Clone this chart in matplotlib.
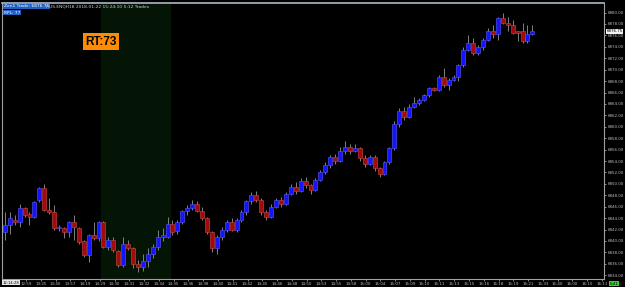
import numpy as np
import matplotlib
matplotlib.use("Agg")
import matplotlib.pyplot as plt

plt.rcParams['font.family'] = ['Liberation Sans Narrow', 'DejaVu Sans']

# candle data (range bars, index = bar number)
opens = [6841.5, 6842.75, 6843.75, 6843.25, 6845.75, 6844.75, 6844.25, 6847.25, 6849.25, 6845.5,
         6845.0, 6842.25, 6842.25, 6841.5, 6843.25, 6842.25, 6840.0, 6837.5, 6841.0, 6840.5,
         6843.25, 6839.0, 6840.25, 6838.25, 6835.75, 6839.5, 6838.75, 6836.0, 6835.5, 6836.5,
         6837.75, 6839.0, 6840.75, 6840.75, 6843.0, 6841.75, 6843.25, 6845.25, 6845.75, 6846.5,
         6845.25, 6844.0, 6841.5, 6838.75, 6840.75, 6842.0, 6843.25, 6842.0, 6843.75, 6845.0,
         6847.0, 6848.0, 6847.25, 6845.0, 6844.25, 6846.0, 6847.25, 6846.5, 6848.25, 6849.5,
         6848.75, 6850.5, 6849.75, 6849.0, 6850.75, 6852.0, 6853.25, 6854.75, 6854.0, 6855.75,
         6856.5, 6855.75, 6856.25, 6854.5, 6853.5, 6854.75, 6852.75, 6851.75, 6853.75, 6856.25,
         6860.5, 6862.75, 6861.75, 6863.5, 6864.25, 6864.75, 6865.5, 6866.75, 6866.5, 6868.75,
         6867.25, 6868.25, 6868.75, 6870.75, 6873.5, 6874.75, 6873.0, 6874.0, 6875.25, 6876.75,
         6876.25, 6879.0, 6878.25, 6877.75, 6876.75, 6876.75, 6875.0, 6876.25]
closes = [6842.75, 6844.0, 6843.25, 6845.75, 6844.5, 6844.25, 6846.75, 6849.25, 6845.5, 6845.0,
          6842.25, 6842.25, 6841.5, 6843.25, 6842.5, 6839.75, 6837.5, 6841.0, 6840.5, 6843.25,
          6839.0, 6840.25, 6838.5, 6835.75, 6839.5, 6838.75, 6836.0, 6835.5, 6836.5, 6837.75,
          6839.0, 6840.75, 6841.0, 6843.0, 6841.5, 6843.25, 6845.25, 6845.75, 6846.5, 6845.25,
          6844.0, 6841.5, 6838.75, 6840.75, 6842.0, 6843.25, 6842.0, 6843.75, 6845.0, 6847.0,
          6848.0, 6847.25, 6845.0, 6844.25, 6846.0, 6847.25, 6846.5, 6848.25, 6849.5, 6848.75,
          6850.5, 6849.75, 6849.0, 6850.75, 6852.0, 6853.25, 6854.75, 6854.0, 6855.75, 6856.5,
          6855.75, 6856.25, 6854.5, 6853.5, 6854.75, 6852.75, 6851.75, 6853.75, 6856.25, 6860.5,
          6862.75, 6861.75, 6863.5, 6864.25, 6864.75, 6865.5, 6866.75, 6866.5, 6868.75, 6867.25,
          6868.25, 6868.75, 6870.75, 6873.5, 6874.75, 6873.0, 6874.0, 6875.25, 6876.75, 6876.25,
          6879.0, 6878.25, 6877.75, 6876.5, 6876.5, 6875.0, 6876.25, 6876.75]
highs = [6845.0, 6845.0, 6844.5, 6846.5, 6846.0, 6845.0, 6847.0, 6849.5, 6850.0, 6847.5,
         6846.25, 6842.75, 6842.5, 6843.5, 6844.5, 6842.5, 6840.25, 6841.25, 6843.25, 6843.5,
         6843.5, 6840.75, 6840.75, 6838.5, 6840.75, 6840.25, 6839.0, 6836.75, 6837.75, 6838.75,
         6839.5, 6842.0, 6842.25, 6844.25, 6843.75, 6843.75, 6845.5, 6846.25, 6847.25, 6847.0,
         6846.0, 6844.25, 6841.75, 6841.0, 6842.5, 6843.75, 6844.0, 6844.0, 6845.5, 6847.25,
         6848.5, 6848.75, 6847.5, 6845.5, 6846.5, 6847.5, 6847.75, 6848.5, 6850.0, 6850.25,
         6851.0, 6851.25, 6850.0, 6851.0, 6852.5, 6853.75, 6855.0, 6855.25, 6856.5, 6857.5,
         6857.0, 6857.0, 6856.5, 6855.0, 6855.0, 6855.0, 6853.0, 6854.0, 6856.5, 6861.0,
         6863.25, 6863.5, 6864.0, 6865.25, 6865.0, 6865.75, 6867.0, 6867.0, 6869.0, 6870.25,
         6868.5, 6869.0, 6871.0, 6874.0, 6876.0, 6875.5, 6874.25, 6875.5, 6877.25, 6877.75,
         6879.25, 6880.0, 6879.25, 6878.75, 6876.75, 6878.25, 6877.75, 6877.75]
lows = [6840.25, 6841.25, 6842.75, 6842.5, 6844.25, 6842.75, 6844.0, 6846.75, 6845.25, 6844.75,
        6842.0, 6841.75, 6840.5, 6840.75, 6840.25, 6839.5, 6837.25, 6836.25, 6840.25, 6840.0,
        6838.75, 6838.5, 6838.0, 6835.5, 6835.5, 6838.5, 6835.25, 6834.5, 6834.75, 6835.5,
        6837.0, 6838.5, 6840.0, 6840.5, 6841.0, 6841.25, 6843.0, 6844.5, 6845.5, 6845.0,
        6843.75, 6841.25, 6838.0, 6837.75, 6840.25, 6841.5, 6841.75, 6841.5, 6843.25, 6844.5,
        6846.5, 6846.75, 6844.5, 6843.75, 6844.0, 6845.75, 6846.0, 6846.25, 6848.0, 6848.25,
        6848.5, 6849.25, 6848.25, 6848.75, 6850.5, 6851.75, 6852.75, 6853.5, 6853.75, 6855.25,
        6855.25, 6855.5, 6854.0, 6853.0, 6853.25, 6852.25, 6851.25, 6851.5, 6853.5, 6856.0,
        6860.0, 6861.25, 6861.5, 6863.25, 6863.75, 6864.5, 6865.25, 6866.25, 6866.25, 6867.0,
        6866.5, 6868.0, 6868.0, 6870.5, 6873.25, 6872.5, 6872.5, 6873.5, 6875.0, 6875.5,
        6875.25, 6878.0, 6876.75, 6876.25, 6875.0, 6874.75, 6874.75, 6876.0]

time_labels = ["12:14:28", "12:59", "13:25", "13:40", "13:57", "14:19", "14:29", "14:30", "14:31",
               "14:32", "14:34", "14:35", "14:36", "14:38", "14:40", "14:41", "14:42", "14:45",
               "14:46", "14:48", "14:50", "14:53", "14:55", "14:58", "15:00", "15:04", "15:07",
               "15:09", "15:10", "15:11", "15:13", "15:15", "15:16", "15:18", "15:19", "15:21",
               "15:33", "15:40", "16:00", "16:10", "16:11"]
price_ticks = np.arange(6834, 6881, 2)
last_price = 6876.75
shade_start, shade_end = 19.5, 33.5   # dark green session block
rt_text = "RT:73"
header = "F.US.ENQH18 2018-01-22 15:24:10 5:12 Trades"

BLUE = "#1414ff"
RED = "#a00c0c"
BG = "#000000"
FS = 2.9

fig = plt.figure(figsize=(6.25, 2.87), dpi=100, facecolor=BG)
ax = fig.add_axes([0.003, 0.028, 0.964, 0.962], facecolor=BG)

o = np.array(opens); c = np.array(closes)
h = np.array(highs); l = np.array(lows)
x = np.arange(len(o))
up = c >= o

ax.axvspan(shade_start, shade_end, color="#051505", zorder=0)

ax.vlines(x, l, h, color="#808080", lw=0.7, zorder=1)
bottoms = np.minimum(o, c)
heights = np.maximum(np.abs(c - o), 0.2)
ax.bar(x[up], heights[up], bottom=bottoms[up], width=0.8, color=BLUE,
       edgecolor="#5a5aff", linewidth=0.4, zorder=2)
ax.bar(x[~up], heights[~up], bottom=bottoms[~up], width=0.8, color=RED,
       edgecolor="#d04848", linewidth=0.4, zorder=2)

ax.set_xlim(-0.6, 121.6)
ax.set_ylim(6833.35, 6881.7)

# price axis on the right
ax.yaxis.tick_right()
ax.set_yticks(price_ticks)
ax.set_yticklabels([f"{p:.2f}" for p in price_ticks])
ax.tick_params(axis="y", colors="#bdbdbd", labelsize=FS, length=1.5, width=0.5, pad=0.6)

tick_pos = 1.3 + 2.995 * np.arange(len(time_labels))
ax.set_xticks(tick_pos[1:])
ax.set_xticklabels(time_labels[1:])
ax.tick_params(axis="x", colors="#bdbdbd", labelsize=FS, length=1.5, width=0.5, pad=0.6)
ax.annotate(time_labels[0], xy=(0.0, 0.0), xycoords="axes fraction",
            xytext=(0.6, -1.2), textcoords="offset points", ha="left", va="top",
            fontsize=FS - 0.2, color="#000000",
            bbox=dict(boxstyle="square,pad=0.1", fc="#e8e8e8", ec="none"))

for s in ["left", "right", "bottom"]:
    ax.spines[s].set_color("#a0a0a0")
    ax.spines[s].set_linewidth(0.8)
ax.spines["top"].set_color("#aab8c8")
ax.spines["top"].set_linewidth(1.2)

# last price label
ax.annotate(f"{last_price:.2f}", xy=(1.0, last_price), xycoords=("axes fraction", "data"),
            xytext=(1.6, 0), textcoords="offset points", ha="left", va="center",
            fontsize=FS, color="#000000",
            bbox=dict(boxstyle="square,pad=0.1", fc="#f0f0f0", ec="none"))

# countdown box
fig.text(0.976, 0.012, "5:41", ha="left", va="center", fontsize=FS, color="#000000",
         bbox=dict(boxstyle="square,pad=0.15", fc="#22dd22", ec="none"))

# header text
fig.text(0.006, 0.978, "Zen1 Trade: 6876.75", ha="left", va="center", fontsize=FS + 0.3,
         color="#ffffff", bbox=dict(boxstyle="square,pad=0.1", fc="#2060c0", ec="none"))
fig.text(0.074, 0.978, header, ha="left", va="center", fontsize=FS + 0.3, color="#d0d0d0")
fig.text(0.006, 0.956, "RPL: 77", ha="left", va="center", fontsize=FS + 0.3,
         color="#ffffff", bbox=dict(boxstyle="square,pad=0.1", fc="#2060c0", ec="none"))

# RT box
ax.text(shade_start, 6874.9, rt_text, ha="center", va="center",
        fontsize=8.5, fontweight="bold", color="#000000",
        family=["Liberation Sans", "DejaVu Sans"],
        bbox=dict(boxstyle="square,pad=0.2", fc="#ff8c00", ec="none"), zorder=5)

fig.savefig("out.png", dpi=100, facecolor=BG)
